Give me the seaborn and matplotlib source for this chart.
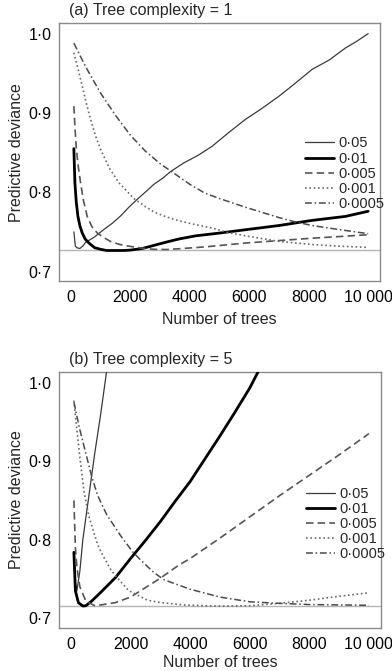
import matplotlib
matplotlib.use("Agg")
import matplotlib.pyplot as plt
from matplotlib.lines import Line2D
import seaborn as sns
import pandas as pd

# ---------------- data ----------------
learning_rates = ["0·05", "0·01", "0·005", "0·001", "0·0005"]

# (a) tree complexity = 1
a_x_005 = [100, 150, 200, 300, 400, 500, 774, 1110, 1400, 1670, 1950, 2231, 2500, 2792, 3100, 3352, 3800,
           4300, 4753, 5300, 5876, 6400, 6996, 7500, 8117, 8700, 9238, 9600, 10000]
a_y_005 = [0.750, 0.732, 0.730, 0.729, 0.732, 0.737, 0.743, 0.753, 0.761, 0.770, 0.781, 0.791, 0.800, 0.810,
           0.818, 0.826, 0.837, 0.847, 0.858, 0.875, 0.892, 0.905, 0.921, 0.936, 0.955, 0.967, 0.982, 0.990, 1.000]
a_x_001 = [100, 135, 180, 235, 300, 381, 480, 605, 800, 1000, 1200, 1500, 1783, 2000, 2400, 2800, 3200, 3633,
           4200, 5000, 5876, 7000, 8117, 9238, 10000]
a_y_001 = [0.855, 0.812, 0.788, 0.770, 0.758, 0.7486, 0.741, 0.736, 0.730, 0.728, 0.7265, 0.7265, 0.7265,
           0.727, 0.729, 0.733, 0.737, 0.741, 0.745, 0.7485, 0.7527, 0.758, 0.7645, 0.7695, 0.776]
a_x_0005 = [100, 140, 185, 250, 325, 420, 549, 700, 886, 1100, 1334, 1650, 2007, 2400, 2792, 3200, 3633, 4500,
            5876, 7000, 8117, 9000, 10000]
a_y_0005 = [0.9086, 0.880, 0.854, 0.832, 0.812, 0.790, 0.7695, 0.757, 0.7486, 0.743, 0.7379, 0.734, 0.7316,
            0.7295, 0.728, 0.7277, 0.7287, 0.731, 0.7359, 0.739, 0.742, 0.744, 0.7464]
a_x_0001 = [100, 250, 381, 520, 662, 820, 998, 1300, 1615, 2119, 2500, 2800, 3200, 3633, 4200, 4753, 5300, 5876,
            7000, 8117, 9000, 10000]
a_y_0001 = [0.976, 0.954, 0.934, 0.912, 0.892, 0.872, 0.854, 0.830, 0.812, 0.792, 0.782, 0.775, 0.769, 0.764,
            0.759, 0.7548, 0.749, 0.745, 0.738, 0.734, 0.732, 0.7304]
a_x_00005 = [100, 500, 1000, 1500, 2000, 2500, 3000, 3464, 4000, 4500, 5000, 5876, 7000, 7500, 8117, 9000, 10000]
a_y_00005 = [0.988, 0.958, 0.925, 0.897, 0.872, 0.852, 0.836, 0.824, 0.810, 0.799, 0.792, 0.781, 0.768,
             0.763, 0.758, 0.753, 0.7477]
a_min_line = 0.7265

# (b) tree complexity = 5
b_x_005 = [100, 150, 200, 300, 400, 600, 800, 1000, 1200, 1300]
b_y_005 = [0.775, 0.745, 0.735, 0.760, 0.800, 0.855, 0.910, 0.960, 1.015, 1.040]
b_x_001 = [100, 150, 250, 400, 500, 700, 1000, 1500, 2000, 2500, 3000, 3500, 4000, 4500, 5000, 5500, 6000,
           6300, 6500]
b_y_001 = [0.784, 0.735, 0.720, 0.7156, 0.716, 0.722, 0.733, 0.752, 0.776, 0.799, 0.823, 0.849, 0.874, 0.903,
           0.932, 0.962, 0.993, 1.015, 1.030]
b_x_0005 = [100, 150, 200, 300, 500, 800, 1000, 1500, 2000, 2500, 3000, 3633, 4000, 5000, 6000, 7000, 8000,
            9000, 10000]
b_y_0005 = [0.850, 0.790, 0.765, 0.740, 0.722, 0.716, 0.717, 0.720, 0.727, 0.739, 0.751, 0.768, 0.776, 0.802,
            0.829, 0.856, 0.882, 0.908, 0.935]
b_x_0001 = [100, 200, 300, 437, 600, 886, 1000, 1335, 1500, 1895, 2000, 2568, 3000, 3800, 4500, 5000, 6000,
            7000, 8000, 9000, 10000]
b_y_0001 = [0.977, 0.940, 0.905, 0.862, 0.830, 0.795, 0.785, 0.762, 0.754, 0.737, 0.734, 0.723, 0.720, 0.717,
            0.716, 0.7155, 0.716, 0.719, 0.723, 0.728, 0.7325]
b_x_00005 = [100, 300, 500, 700, 900, 1200, 1670, 2063, 2343, 2792, 3128, 3633, 4000, 5000, 6000, 7000, 8000,
             9000, 10000]
b_y_00005 = [0.975, 0.940, 0.910, 0.880, 0.856, 0.832, 0.805, 0.785, 0.774, 0.758, 0.749, 0.742, 0.737, 0.727,
             0.721, 0.719, 0.7175, 0.717, 0.7165]
b_min_line = 0.7155

x_ticks = [0, 2000, 4000, 6000, 8000, 10000]
x_tick_labels = ["0", "2000", "4000", "6000", "8000", "10 000"]
y_ticks = [0.7, 0.8, 0.9, 1.0]
y_tick_labels = ["0·7", "0·8", "0·9", "1·0"]

titles = ["(a) Tree complexity = 1", "(b) Tree complexity = 5"]

# ---------------- style ----------------
sns.set_theme(style="white")
plt.rcParams["font.family"] = ["Liberation Sans", "DejaVu Sans"]

styles = [
    dict(color="#3a3a3a", lw=0.9, ls="-"),
    dict(color="#000000", lw=2.0, ls="-"),
    dict(color="#555555", lw=1.2, ls=(0, (4.5, 2.5))),
    dict(color="#6a6a6a", lw=1.2, ls=(0, (1, 1.6))),
    dict(color="#4a4a4a", lw=1.1, ls=(0, (4.5, 1.8, 1, 1.8))),
]

fig = plt.figure(figsize=(3.92, 6.71), dpi=100)
ax_a = fig.add_axes([0.1505, 0.5812, 0.819, 0.384])
ax_b = fig.add_axes([0.1505, 0.0645, 0.821, 0.3806])

panels = [
    (ax_a, [(a_x_005, a_y_005), (a_x_001, a_y_001), (a_x_0005, a_y_0005), (a_x_0001, a_y_0001),
            (a_x_00005, a_y_00005)], a_min_line, 0.561, 5),
    (ax_b, [(b_x_005, b_y_005), (b_x_001, b_y_001), (b_x_0005, b_y_0005), (b_x_0001, b_y_0001),
            (b_x_00005, b_y_00005)], b_min_line, 0.552, 2),
]

for i, (ax, series, minline, leg_y, xpad) in enumerate(panels):
    ax.axhline(minline, color="#b5b5b5", lw=1.0, zorder=1)
    for lab, (xs, ys), st in zip(learning_rates, series, styles):
        df = pd.DataFrame({"trees": xs, "dev": ys})
        sns.lineplot(data=df, x="trees", y="dev", ax=ax, color=st["color"], linewidth=st["lw"],
                     linestyle=st["ls"], estimator=None, sort=False, zorder=3)
    ax.set_xlim(-400, 10400)
    ax.set_ylim(0.688, 1.013)
    ax.set_xticks(x_ticks)
    ax.set_xticklabels(x_tick_labels)
    ax.set_yticks(y_ticks)
    ax.set_yticklabels(y_tick_labels)
    ax.tick_params(axis="both", direction="out", length=3.5, width=0.9, color="#777777",
                   labelsize=11.5, pad=2, labelcolor="black")
    ax.tick_params(axis="x", pad=3)
    for sp in ax.spines.values():
        sp.set_color("#8a8a8a")
        sp.set_linewidth(1.0)
    ax.set_xlabel("Number of trees", fontsize=11.5, labelpad=xpad)
    ax.set_ylabel("Predictive deviance", fontsize=11.5, labelpad=3)
    ax.set_title(titles[i], fontsize=11.5, loc="left", x=0.03, pad=6)
    handles = [Line2D([0], [0], color=st["color"], lw=st["lw"], linestyle=st["ls"]) for st in styles]
    ax.legend(handles, learning_rates, loc="upper left", bbox_to_anchor=(0.766, leg_y), frameon=False,
              fontsize=10.5, handlelength=2.0, handletextpad=0.3, labelspacing=0.08, borderpad=0,
              borderaxespad=0)

fig.savefig("out.png", dpi=100)
